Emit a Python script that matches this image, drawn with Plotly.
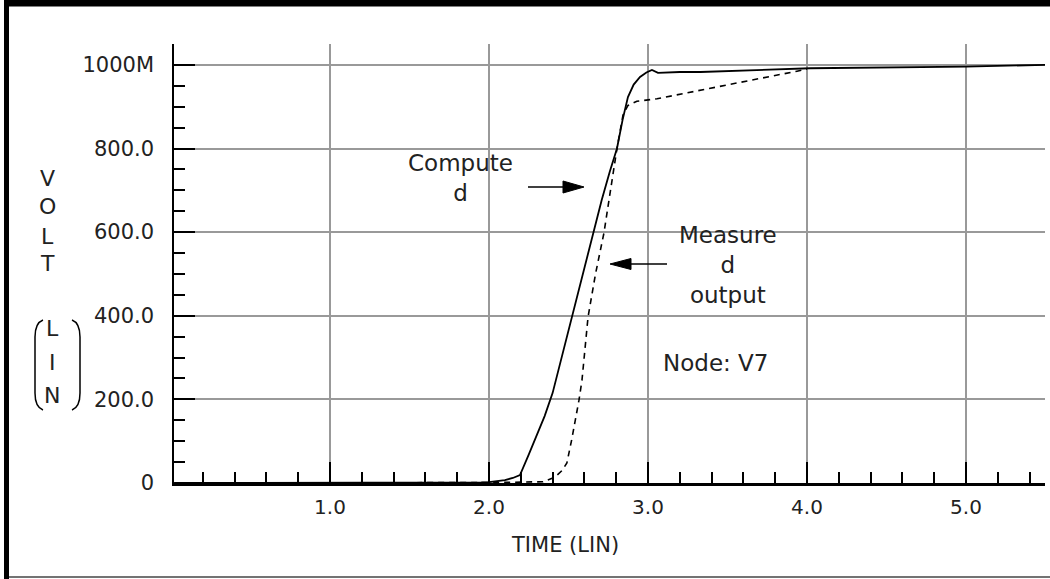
import plotly.graph_objects as go

# ---------------- data ----------------
computed_t = [0.02, 1.0, 1.8, 1.95, 2.0, 2.05, 2.1, 2.15, 2.195, 2.25, 2.30, 2.35, 2.40,
              2.46, 2.522, 2.588, 2.654, 2.709, 2.76, 2.805, 2.84, 2.874, 2.91, 2.95,
              2.99, 3.025, 3.063, 3.2, 3.33, 4.02, 5.0, 5.497]
computed_v = [0, 0, 0.5, 1.5, 2, 4, 7, 12, 19, 68, 112, 160, 215,
              305, 400, 500, 600, 677, 745, 800, 868, 923, 953, 971,
              982, 988, 981, 983, 983, 992, 996, 1000]

measured_t = [0.02, 2.0, 2.34, 2.415, 2.46, 2.49, 2.52, 2.547, 2.566, 2.585, 2.623, 2.67,
              2.723, 2.755, 2.805, 2.843, 2.874, 2.93, 3.0, 3.057, 3.937, 4.0]
measured_v = [0, 1, 3, 14, 30, 48, 103, 158, 198, 246, 397, 500,
              598, 677, 800, 880, 903, 913, 916, 919, 985, 990]

x_major = [1, 2, 3, 4, 5]
x_major_text = ["1.0", "2.0", "3.0", "4.0", "5.0"]
x_minor = [round(0.2 * i, 2) for i in range(1, 28) if i % 5 != 0]
y_major = [0, 200, 400, 600, 800, 1000]
y_major_text = ["0", "200.0", "400.0", "600.0", "800.0", "1000M"]
y_minor = [v for v in range(50, 1051, 50) if v % 200 != 0]

# ---------------- layout geometry (pixels) ----------------
W, H = 1050, 579
L, R, T, B = 174, 1045, 44, 483
FONT = "DejaVu Sans"


def px(x):
    return (x - L) / (R - L)


def py(y):
    return (B - y) / (B - T)


fig = go.Figure()
fig.add_trace(go.Scatter(x=computed_t, y=computed_v, mode="lines",
                         line=dict(color="black", width=1.8), name="Computed"))
fig.add_trace(go.Scatter(x=measured_t, y=measured_v, mode="lines",
                         line=dict(color="black", width=1.6, dash="6px,5px"),
                         name="Measured output"))

shapes = []
# white gaps in grid lines behind labels
shapes.append(dict(type="rect", xref="paper", yref="paper", x0=px(478), x1=px(500),
                   y0=py(228), y1=py(151), fillcolor="white", line_width=0, layer="between"))
shapes.append(dict(type="rect", xref="paper", yref="paper", x0=px(670), x1=px(785),
                   y0=py(238), y1=py(228), fillcolor="white", line_width=0, layer="between"))
# frame
shapes.append(dict(type="rect", xref="paper", yref="paper", x0=px(4), x1=px(9),
                   y0=py(579), y1=py(0), fillcolor="black", line_width=0))
shapes.append(dict(type="rect", xref="paper", yref="paper", x0=px(4), x1=px(1050),
                   y0=py(6.5), y1=py(0), fillcolor="black", line_width=0))
shapes.append(dict(type="line", xref="paper", yref="paper", x0=px(9), x1=px(1050),
                   y0=py(577), y1=py(577), line=dict(color="#444", width=1.5)))


def path(points):
    (x0, y0), (cx1, cy1), (x1, y1), (x2, y2), (cx2, cy2), (x3, y3) = points
    return (f"M {px(x0)},{py(y0)} Q {px(cx1)},{py(cy1)} {px(x1)},{py(y1)} "
            f"L {px(x2)},{py(y2)} Q {px(cx2)},{py(cy2)} {px(x3)},{py(y3)}")


shapes.append(dict(type="path", xref="paper", yref="paper",
                   path=path([(43, 320), (35, 323), (35, 337), (35, 393), (35, 407), (43, 410)]),
                   line=dict(color="black", width=1.5)))
shapes.append(dict(type="path", xref="paper", yref="paper",
                   path=path([(72, 320), (80, 323), (80, 337), (80, 393), (80, 407), (72, 410)]),
                   line=dict(color="black", width=1.5)))


def arrow(x_tail, x_tip, y, head_len, half_w):
    base = x_tip - head_len if x_tip > x_tail else x_tip + head_len
    shapes.append(dict(type="line", xref="paper", yref="paper", x0=px(x_tail), x1=px(base),
                       y0=py(y), y1=py(y), line=dict(color="black", width=1.6)))
    shapes.append(dict(type="path", xref="paper", yref="paper",
                       path=(f"M {px(x_tip)},{py(y)} L {px(base)},{py(y - half_w)} "
                             f"L {px(base)},{py(y + half_w)} Z"),
                       fillcolor="black", line=dict(color="black", width=1)))


arrow(528, 584, 187, 21, 6)
arrow(667, 610, 264, 21, 5.5)

annotations = []


def text(t, x, y, size=23):
    annotations.append(dict(text=t, xref="paper", yref="paper", x=px(x), y=py(y),
                            xanchor="center", yanchor="middle", showarrow=False,
                            font=dict(family=FONT, size=size, color="#222")))


text("Compute<br>d", 460, 178)
text("Measure<br>d<br>output", 728, 265)
text("Node: V7", 715, 363)
text("TIME (LIN)", 565, 545, 21)
for ch, yy in zip("VOLT", [178, 207, 236, 263]):
    text(ch, 47, yy, 22)
for ch, yy in zip("LIN", [328, 362, 395]):
    text(ch, 52, yy, 22)

fig.update_layout(
    width=W, height=H, autosize=False,
    margin=dict(l=L, r=W - R, t=T, b=H - B, pad=0),
    paper_bgcolor="white", plot_bgcolor="white",
    showlegend=False,
    font=dict(family=FONT, color="#222"),
    shapes=shapes, annotations=annotations,
    xaxis=dict(range=[0.019, 5.497], tickmode="array", tickvals=x_major, ticktext=x_major_text,
               ticks="inside", ticklen=21, tickwidth=2, tickcolor="black",
               minor=dict(tickmode="array", tickvals=x_minor, ticks="inside", ticklen=11,
                          tickwidth=1.5, tickcolor="black", showgrid=False),
               showgrid=True, gridcolor="#999", gridwidth=1.5,
               showline=True, linecolor="black", linewidth=2.5, zeroline=False,
               tickfont=dict(family=FONT, size=20, color="#222"), ticklabelstandoff=4),
    yaxis=dict(range=[0, 1050], tickmode="array", tickvals=y_major, ticktext=y_major_text,
               ticks="inside", ticklen=21, tickwidth=2, tickcolor="black",
               minor=dict(tickmode="array", tickvals=y_minor, ticks="inside", ticklen=11,
                          tickwidth=1.5, tickcolor="black", showgrid=False),
               showgrid=True, gridcolor="#999", gridwidth=1.5,
               showline=True, linecolor="black", linewidth=1.5, zeroline=False,
               tickfont=dict(family=FONT, size=21, color="#222"), ticklabelstandoff=14),
)

fig.write_html("out.html", config={"displayModeBar": False},
               post_script="document.body.style.margin='0';")
